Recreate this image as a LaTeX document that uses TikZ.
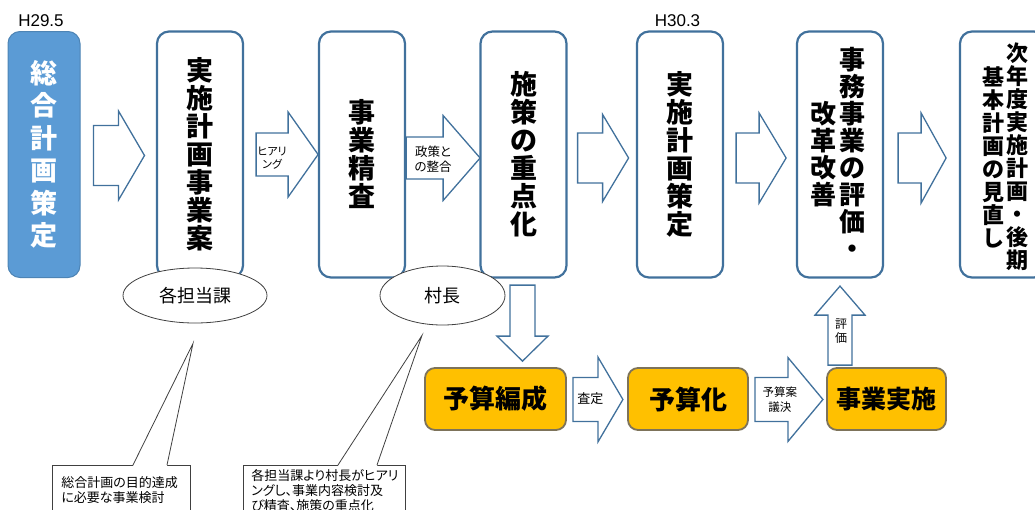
\documentclass[tikz,border=0pt]{standalone}
\usepackage{fontspec}
\setmainfont{Noto Sans CJK JP}[RawFeature=+palt]
\newfontfamily\latinfont{Liberation Sans}
\usetikzlibrary{positioning, calc, shapes.geometric}
\definecolor{bluefill}{RGB}{91,155,213}
\definecolor{boxline}{RGB}{65,113,156}
\definecolor{gold}{RGB}{255,192,0}
\definecolor{goldline}{RGB}{125,115,90}
\newcommand{\bigarrow}[6]{%
  \draw[blockarrow, shift={(#1)}, rotate=#2]
    (0,-#4) -- (#3-#6,-#4) -- (#3-#6,-#5) -- (#3,0) -- (#3-#6,#5) -- (#3-#6,#4) -- (0,#4) -- cycle;}

\begin{document}
\begin{tikzpicture}[x=1pt, y=-1pt, on grid,
  stage/.style={draw=boxline, line width=2.2pt, rounded corners=12pt, fill=white, minimum width=86pt, minimum height=246pt, inner sep=0pt, align=center, font=\bfseries\fontsize{27}{28}\selectfont},
  money/.style={draw=goldline, line width=1.8pt, rounded corners=10pt, fill=gold, minimum height=62pt, inner sep=0pt, font=\bfseries\fontsize{26}{26}\selectfont},
  who/.style={draw=black!75, line width=0.8pt, ellipse, fill=white, inner sep=0pt, font=\fontsize{18}{18}\selectfont},
  memo/.style={draw=black!75, line width=0.8pt, fill=white, anchor=north west, align=left, font=\fontsize{13}{15}\selectfont},
  memoline/.style={draw=black!75, line width=0.8pt},
  blockarrow/.style={draw=boxline, line width=1.3pt, fill=white, line join=miter},
  arrowtag/.style={inner sep=0pt, align=center, font=\fontsize{11}{13}\selectfont},
  vcol/.style={inner sep=0pt, align=center, font=\bfseries\fontsize{26}{27}\selectfont},
  date/.style={inner sep=0pt, font=\latinfont\fontsize{17}{17}\selectfont}]
	\useasboundingbox (0,0) rectangle (1035,509);

	\node[stage, fill=bluefill, draw=bluefill!85!black, line width=1pt, minimum width=72pt, text=white, font=\bfseries\fontsize{27}{32.5}\selectfont] (plan) at (44,154.5) {総\\合\\計\\画\\策\\定};
	\node[stage] (draft) [right=156pt of plan] {実\\施\\計\\画\\事\\業\\案};
	\node[stage] (review) [right=162pt of draft] {事\\業\\精\\査};
	\node[stage] (focus) [right=161.5pt of review] {施\\策\\の\\重\\点\\化};
	\node[stage] (impl) [right=156.5pt of focus] {実\\施\\計\\画\\策\\定};
	\node[stage] (evalbox) [right=160pt of impl] {};
	\node[vcol] (evalR) at ($(evalbox.center)+(12,-2)$) {事\\務\\事\\業\\の\\評\\価\\・};
	\node[vcol] (evalL) at ($(evalbox.center)+(-17,0)$) {改\\革\\改\\善};
	\node[stage] (nextbox) [right=163pt of evalbox] {};
	\node[vcol, font=\bfseries\fontsize{22}{23}\selectfont] (nextR) at ($(nextbox.center)+(14,2.5)$) {次\\年\\度\\実\\施\\計\\画\\・\\後\\期};
	\node[vcol, font=\bfseries\fontsize{22}{23}\selectfont] (nextL) at ($(nextbox.center)+(-10,2.5)$) {基\\本\\計\\画\\の\\見\\直\\し};

	\node[date] (startdate) at ($(plan.north)+(-3,-10)$) {H29.5};
	\node[date] (fixdate) at ($(impl.north)+(-2.5,-10)$) {H30.3};

	\node[money, minimum width=141pt] (budget) at (495.5,399) {予算編成};
	\node[money, minimum width=120pt] (budgetize) [right=192.5pt of budget] {予算化};
	\node[money, minimum width=119pt, font=\bfseries\fontsize{25}{25}\selectfont] (execute) [right=198.5pt of budgetize] {事業実施};

	\bigarrow{$(plan.east)+(13,1)$}{0}{51}{30}{44.5}{26}
	\bigarrow{$(draft.east)+(12,0)$}{0}{62}{21.5}{42.5}{30}
	\bigarrow{$(review.east)+(0,3.5)$}{0}{74}{21}{42.5}{37}
	\bigarrow{$(focus.east)+(10,3.5)$}{0}{51}{25}{43.5}{26}
	\bigarrow{$(impl.east)+(12,3.5)$}{0}{50}{25}{45}{27}
	\bigarrow{$(evalbox.east)+(14,3.5)$}{0}{48}{25}{45}{25}
	\bigarrow{$(budget.east)+(6,0.5)$}{0}{50}{22}{42.5}{25}
	\bigarrow{$(budgetize.east)+(6,0.5)$}{0}{68}{22}{42}{35}
	\bigarrow{$(focus.south)+(-1,6.5)$}{-90}{76}{12.5}{25.5}{25}
	\bigarrow{$(evalbox.south)+(0,86.5)$}{90}{79}{12}{25}{29}

	\node[arrowtag] (hearing) at ($(draft.east)+(28,3.5)$) {ヒアリ\\ング};
	\node[arrowtag, font=\fontsize{12.5}{15}\selectfont] (policy) at ($(review.east)+(27,4.5)$) {政策と\\の整合};
	\node[arrowtag, font=\fontsize{13}{15}\selectfont] (assess) at ($(budget.east)+(23.5,0)$) {査定};
	\node[arrowtag, font=\fontsize{11.5}{15}\selectfont] (vote) at ($(budgetize.east)+(31,1)$) {予算案\\議決};
	\node[arrowtag, font=\fontsize{12}{14}\selectfont] (rating) at ($(evalbox.south)+(1,52.5)$) {評\\価};

	\node[who, minimum width=144pt, minimum height=55pt] (sections) at (195,295.5) {各担当課};
	\node[who, minimum width=125pt, minimum height=59pt] (mayor) at (442.5,295.5) {村長};

	\node[memo, text width=120pt, inner xsep=9pt, inner ysep=11pt] (noteA) at (52,465) {総合計画の目的達成\\に必要な事業検討};
	\node[memo, text width=146pt, inner xsep=8pt, inner ysep=4pt] (noteB) at (243,465) {各担当課より村長がヒアリ\\ングし、事業内容検討及\\び精査、施策の重点化};
	\coordinate (tipA) at ($(sections.south)+(-2,20)$);
	\coordinate (tipB) at ($(mayor.south)+(-20.5,10)$);
	\fill[white] ([xshift=81pt,yshift=-1pt]noteA.north west) -- (tipA) -- ([xshift=115pt,yshift=-1pt]noteA.north west) -- cycle;
	\draw[memoline] ([xshift=81pt]noteA.north west) -- (tipA) -- ([xshift=115pt]noteA.north west);
	\fill[white] ([xshift=95pt,yshift=-1pt]noteB.north west) -- (tipB) -- ([xshift=134pt,yshift=-1pt]noteB.north west) -- cycle;
	\draw[memoline] ([xshift=95pt]noteB.north west) -- (tipB) -- ([xshift=134pt]noteB.north west);
\end{tikzpicture}
\end{document}
